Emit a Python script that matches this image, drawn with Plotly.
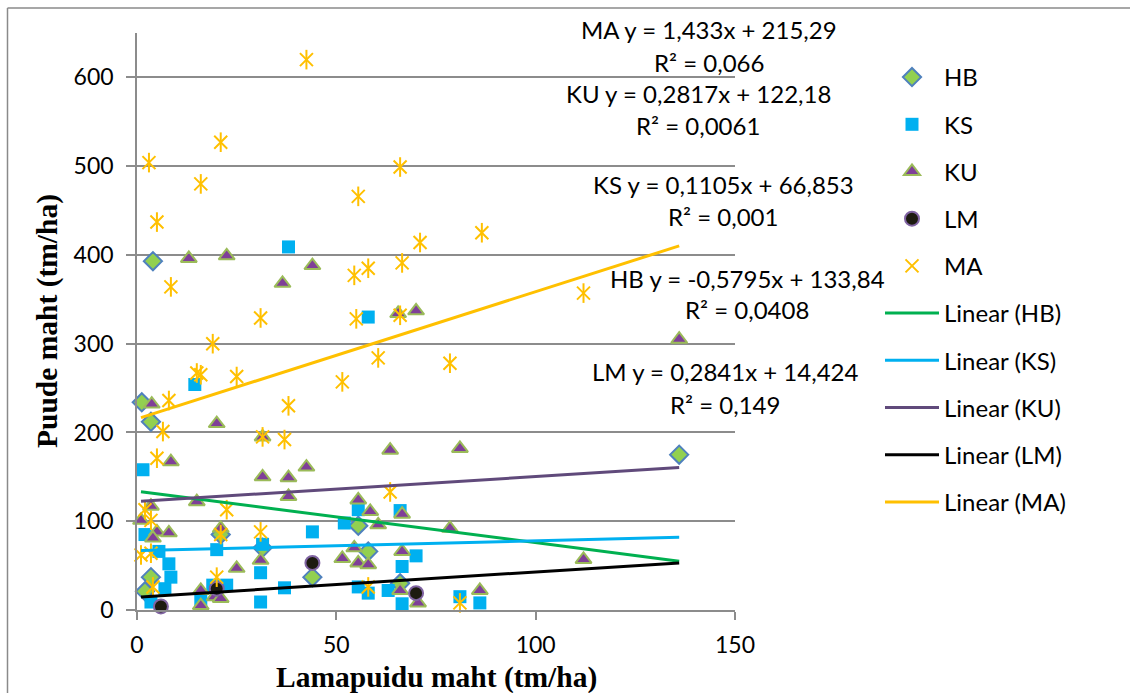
import plotly.graph_objects as go

# ---------------- data ----------------
hb_x = [1.2, 3.5, 4, 21, 31.5, 3.5, 2, 44, 55.5, 58, 66, 136]
hb_y = [234, 212, 393, 85, 70, 37, 21, 37, 95, 66, 30, 175]

ks_x = [1.5, 2, 5.5, 8, 8.5, 3.5, 7, 14.5, 20, 22.5, 19, 16, 31.5, 31, 31, 37, 44, 38,
        58, 52, 55.5, 66, 70, 66.5, 55.5, 58, 63, 66.5, 81, 86]
ks_y = [158, 85, 66, 52, 37, 9, 24, 254, 68, 28, 28, 10, 74, 42, 9, 25, 88, 409,
        330, 98, 113, 112, 61, 49, 26, 19, 22, 7, 15, 8]

ku_x = [3.7, 20, 31.5, 8.5, 31.5, 38, 42.5, 38, 15, 3.5, 1, 5, 8, 4, 21, 31, 25, 16, 16,
        19.5, 21, 13, 22.5, 44, 36.5, 65.5, 70, 63.5, 81, 55.5, 58.5, 60.5, 66.5, 78.5,
        54.5, 51.5, 55.5, 58, 66.5, 66, 70.5, 86, 112, 136]
ku_y = [232, 210, 195, 167, 150, 149, 161, 128, 122, 117, 101, 88, 87, 81, 92, 56, 47, 22, 5,
        15, 13, 396, 399, 388, 368, 334, 337, 180, 182, 124, 111, 96, 108, 92,
        70, 58, 53, 51, 66, 22, 8, 22, 57, 305]

lm_x = [6, 20, 44, 70]
lm_y = [4, 24, 53, 19]

ma_x = [8, 38, 6.5, 31.5, 37, 5, 22.5, 2, 3.5, 21, 31, 1, 3.5, 4, 20, 51.5, 63.5, 58, 81,
        42.5, 3, 21, 16, 66, 55.5, 5, 71, 66.5, 58, 54.5, 8.5, 31, 55, 66, 19, 60.5, 15, 16,
        25, 112, 86.5, 78.5]
ma_y = [236, 230, 201, 195, 192, 171, 113, 113, 101, 85, 88, 62, 64, 26, 37, 257, 133, 26, 8,
        620, 504, 527, 480, 499, 466, 437, 414, 391, 385, 377, 364, 329, 328, 332, 300, 284, 267, 265,
        263, 357, 425, 278]

series_names = ["HB", "KS", "KU", "LM", "MA"]
trend_slopes = [-0.5795, 0.1105, 0.2817, 0.2841, 1.433]
trend_intercepts = [133.84, 66.853, 122.18, 14.424, 215.29]
eq_labels = [
    ["MA y = 1,433x + 215,29", "R² = 0,066"],
    ["KU y = 0,2817x + 122,18", "R² = 0,0061"],
    ["KS y = 0,1105x + 66,853", "R² = 0,001"],
    ["HB y = -0,5795x + 133,84", "R² = 0,0408"],
    ["LM y = 0,2841x + 14,424", "R² = 0,149"],
]
x_title = "Lamapuidu maht (tm/ha)"
y_title = "Puude maht (tm/ha)"

# ---------------- layout geometry ----------------
W, H = 1130, 693
L, R, T, B = 137, 735, 33, 610


def px(xp):
    return (xp - L) / (R - L)


def py(yp):
    return (B - yp) / (B - T)


FONT = "Lato"
GRID = "#8c8c8c"

fig = go.Figure()

common = dict(mode="markers", cliponaxis=False)
fig.add_trace(go.Scatter(x=hb_x, y=hb_y, name="HB", legendgroup="HB",
                         marker=dict(symbol="diamond", size=14, color="#92D050",
                                     line=dict(color="#4F81BD", width=2)), **common))
fig.add_trace(go.Scatter(x=ks_x, y=ks_y, name="KS", legendgroup="KS",
                         marker=dict(symbol="square", size=13, color="#00B0F0",
                                     line=dict(width=0)), **common))
fig.add_trace(go.Scatter(x=ku_x, y=ku_y, name="KU", legendgroup="KU",
                         marker=dict(symbol="triangle-up", size=14, color="#7F3F98",
                                     line=dict(color="#9BBB59", width=2)), **common))
fig.add_trace(go.Scatter(x=lm_x, y=lm_y, name="LM", legendgroup="LM",
                         marker=dict(symbol="circle", size=14, color="#1D1B11",
                                     line=dict(color="#8064A2", width=2)), **common))
fig.add_trace(go.Scatter(x=ma_x, y=ma_y, name="MA", legendgroup="MA",
                         marker=dict(symbol="x-thin-open", size=13, color="#FFC000",
                                     line=dict(color="#FFC000", width=2)), **common))
fig.add_trace(go.Scatter(x=ma_x, y=ma_y, name="MA", legendgroup="MA", showlegend=False,
                         marker=dict(symbol="line-ns-open", size=14, color="#FFC000",
                                     line=dict(color="#FFC000", width=2)), **common))

# trend lines
all_x = hb_x + ks_x + ku_x + lm_x + ma_x
x0, x1 = min(all_x), max(all_x)
trend_colors = ["#00B050", "#00B0F0", "#604A7B", "#000000", "#FFC000"]
for name, m, c, col in zip(series_names, trend_slopes, trend_intercepts, trend_colors):
    fig.add_trace(go.Scatter(x=[x0, x1], y=[m * x0 + c, m * x1 + c], mode="lines",
                             name=f"Linear ({name})", legendgroup=f"lin{name}",
                             line=dict(color=col, width=3), cliponaxis=False))

annotations = []
# equation labels: (center x px, first line y px, second line y px)
eq_pos = [(709, 29, 62), (698, 93, 126), (723, 184, 217), (747, 278, 310), (725, 372, 404)]
for (cx, y1, y2), (l1, l2) in zip(eq_pos, eq_labels):
    for yy, txt in ((y1, l1), (y2, l2)):
        annotations.append(dict(x=px(cx), y=py(yy), xref="paper", yref="paper", text=txt,
                                showarrow=False, xanchor="center", yanchor="middle",
                                font=dict(family=FONT, size=24, color="#000000")))

annotations.append(dict(x=px(436), y=py(677), xref="paper", yref="paper", text=f"<b>{x_title}</b>",
                        showarrow=False, xanchor="center", yanchor="middle",
                        font=dict(family="Liberation Serif", size=29.5, color="#000000")))
annotations.append(dict(x=px(47), y=py(321), xref="paper", yref="paper", text=f"<b>{y_title}</b>",
                        showarrow=False, xanchor="center", yanchor="middle", textangle=-90,
                        font=dict(family="Liberation Serif", size=29.5, color="#000000")))

shapes = [
    dict(type="line", xref="paper", yref="paper", x0=px(7.5), x1=px(1130), y0=py(8), y1=py(8),
         line=dict(color="#8a8a8a", width=1.5)),
    dict(type="line", xref="paper", yref="paper", x0=px(7.5), x1=px(7.5), y0=py(8), y1=py(693),
         line=dict(color="#8a8a8a", width=1.5)),
]

fig.update_layout(
    width=W, height=H,
    margin=dict(l=L, r=W - R, t=T, b=H - B, pad=0),
    paper_bgcolor="white", plot_bgcolor="white",
    font=dict(family=FONT, size=22, color="#000000"),
    showlegend=True,
    legend=dict(x=px(880), y=py(55), xanchor="left", yanchor="top",
                traceorder="grouped", tracegroupgap=13, itemwidth=54,
                font=dict(family=FONT, size=24, color="#000000"),
                bgcolor="rgba(0,0,0,0)"),
    annotations=annotations,
    shapes=shapes,
    xaxis=dict(range=[0, 150], dtick=50, showgrid=False, zeroline=False,
               showline=True, linecolor=GRID, linewidth=1.5,
               ticks="outside", ticklen=8, tickwidth=1.5, tickcolor=GRID,
               ticklabelstandoff=6,
               tickfont=dict(family=FONT, size=23, color="#000000")),
    yaxis=dict(range=[0, 650], dtick=100, showgrid=True, gridcolor=GRID, gridwidth=1.5,
               zeroline=False, showline=True, linecolor=GRID, linewidth=1.5,
               ticks="outside", ticklen=9, tickwidth=1.5, tickcolor=GRID,
               ticklabelstandoff=8,
               tickfont=dict(family=FONT, size=23, color="#000000")),
)

fig.write_html("out.html", config={"displayModeBar": False},
               post_script="document.body.style.margin='0';document.body.style.overflow='hidden';")
